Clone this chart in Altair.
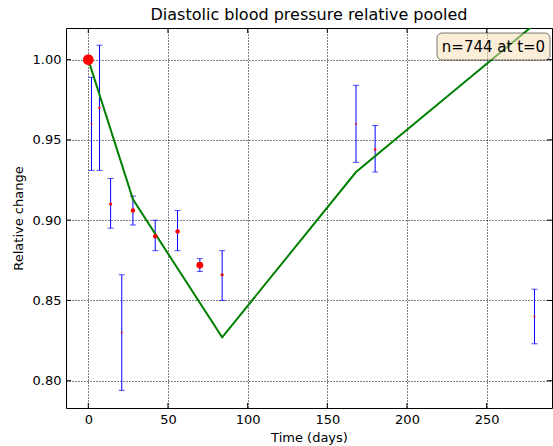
import altair as alt
import pandas as pd

# Measurement days and pooled relative diastolic pressure (mean with error range)
days = [0, 2, 7, 14, 21, 28, 42, 56, 70, 84, 168, 180, 280]
rel_change = [1.000, 0.960, 0.970, 0.910, 0.830, 0.906, 0.890, 0.893, 0.872, 0.866, 0.960, 0.944, 0.840]
err_low = [1.000, 0.931, 0.931, 0.895, 0.794, 0.897, 0.881, 0.881, 0.868, 0.850, 0.936, 0.930, 0.823]
err_high = [1.000, 0.989, 1.009, 0.926, 0.866, 0.915, 0.900, 0.906, 0.876, 0.881, 0.984, 0.959, 0.857]
n_subjects = [744, 23, 36, 64, 23, 129, 129, 129, 312, 64, 23, 43, 23]

# Piecewise model curve
fit_days = [0, 28, 84, 168, 280]
fit_values = [1.000, 0.913, 0.827, 0.930, 1.022]

x_ticks = [0, 50, 100, 150, 200, 250]
y_ticks = [0.80, 0.85, 0.90, 0.95, 1.00]

annotation = "n=744 at t=0"

W, H = 486, 380
FONT = "DejaVu Sans"

obs = pd.DataFrame({"t": days, "rel": rel_change, "lo": err_low, "hi": err_high, "n": n_subjects})
fit = pd.DataFrame({"t": fit_days, "rel": fit_values})

xs = alt.Scale(domain=[-14, 291], nice=False, zero=False)
ys = alt.Scale(domain=[0.783, 1.0197], nice=False, zero=False)

x_axis = alt.Axis(values=x_ticks, title="Time (days)", format="d")
y_axis = alt.Axis(values=y_ticks, title="Relative change", format=".2f")

base = alt.Chart(obs)

bars = base.mark_rule(color="#0000ff", strokeWidth=1).encode(
    x=alt.X("t:Q", scale=xs, axis=x_axis),
    y=alt.Y("lo:Q", scale=ys, axis=y_axis),
    y2="hi:Q",
)
caps_lo = base.mark_tick(color="#0000ff", thickness=1, size=6, orient="horizontal").encode(
    x=alt.X("t:Q", scale=xs), y=alt.Y("lo:Q", scale=ys)
)
caps_hi = base.mark_tick(color="#0000ff", thickness=1, size=6, orient="horizontal").encode(
    x=alt.X("t:Q", scale=xs), y=alt.Y("hi:Q", scale=ys)
)

curve = alt.Chart(fit).mark_line(color="#008000", strokeWidth=2, clip=True).encode(
    x=alt.X("t:Q", scale=xs), y=alt.Y("rel:Q", scale=ys)
)

points = base.mark_circle(color="#ff0000", opacity=1).encode(
    x=alt.X("t:Q", scale=xs),
    y=alt.Y("rel:Q", scale=ys),
    size=alt.Size("n:Q", scale=alt.Scale(domain=[0, 744], range=[0, 115]), legend=None),
)

# Inward tick marks on all four sides
xt = alt.Chart(pd.DataFrame({"v": x_ticks}))
yt = alt.Chart(pd.DataFrame({"v": y_ticks}))
tick_style = dict(color="black", strokeWidth=1)
ticks = (
    xt.mark_rule(**tick_style).encode(x=alt.X("v:Q", scale=xs), y=alt.value(H), y2=alt.value(H - 5))
    + xt.mark_rule(**tick_style).encode(x=alt.X("v:Q", scale=xs), y=alt.value(0), y2=alt.value(5))
    + yt.mark_rule(**tick_style).encode(y=alt.Y("v:Q", scale=ys), x=alt.value(0), x2=alt.value(5))
    + yt.mark_rule(**tick_style).encode(y=alt.Y("v:Q", scale=ys), x=alt.value(W - 5), x2=alt.value(W))
)

note = alt.Chart(pd.DataFrame({"label": [annotation]}))
box = note.mark_rect(
    fill="#f5deb3", fillOpacity=0.5, stroke="black", strokeOpacity=0.5, strokeWidth=1, cornerRadius=5
).encode(x=alt.value(371), x2=alt.value(484), y=alt.value(5), y2=alt.value(32))
label = note.mark_text(font=FONT, fontSize=15, color="black", align="center", baseline="middle").encode(
    x=alt.value(427.5), y=alt.value(19), text="label:N"
)

chart = (
    alt.layer(bars, caps_lo, caps_hi, curve, points, ticks, box, label)
    .properties(
        width=W,
        height=H,
        autosize=alt.AutoSizeParams(type="none"),
        padding={"left": 66, "top": 28, "right": 1, "bottom": 38},
        title=alt.TitleParams(
            "Diastolic blood pressure relative pooled",
            font=FONT, fontSize=16, fontWeight="normal", color="black", anchor="middle", offset=5,
        ),
    )
    .configure_view(stroke="black", strokeWidth=1)
    .configure_axis(
        labelFont=FONT, labelFontSize=13, labelColor="black",
        titleFont=FONT, titleFontSize=13, titleFontWeight="normal", titleColor="black",
        domain=False, ticks=False, labelPadding=5,
        grid=True, gridColor="black", gridDash=[1, 2], gridOpacity=1, gridWidth=1,
    )
    .configure_axisX(titlePadding=5)
    .configure_axisY(titlePadding=7)
)

chart.save("out.html", embed_options={"renderer": "svg", "actions": False})
